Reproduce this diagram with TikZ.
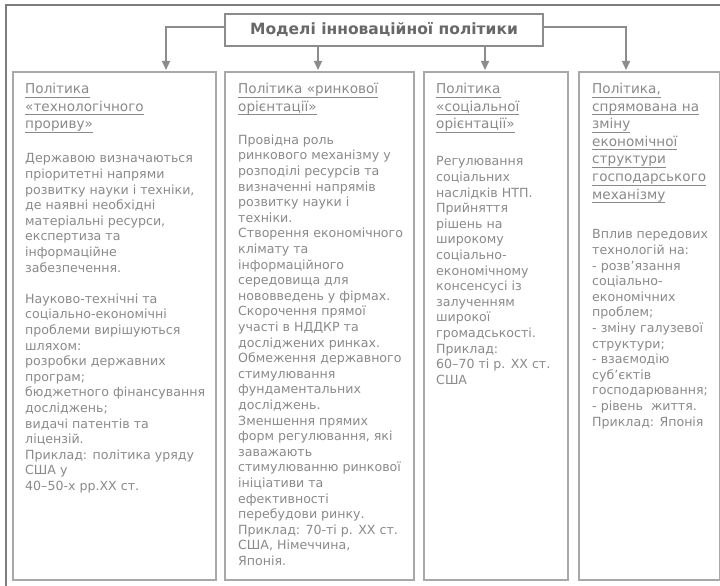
\documentclass[tikz,border=0pt]{standalone}
\usepackage{fontspec}
\setmainfont{DejaVu Sans}
\usetikzlibrary{positioning,arrows.meta}

\definecolor{txtgray}{HTML}{8A8A8A}
\definecolor{titlegray}{HTML}{686868}
\definecolor{linegray}{HTML}{8C8C8C}
\definecolor{boxgray}{HTML}{A8A8A8}
\definecolor{framegray}{HTML}{7C7C7C}

\newcommand{\hd}[1]{\setbox0\hbox{#1}\leavevmode\rlap{\rule[-3.8pt]{\wd0}{0.8pt}}\box0}

\begin{document}
\begin{tikzpicture}[
    x=1pt, y=1pt,
    >={Triangle[length=9pt,width=8pt]},
    title/.style={
        draw=linegray,
        line width=1.5pt,
        fill=white,
        text=titlegray,
        font=\fontsize{15.5}{18}\selectfont\bfseries,
        minimum width=318pt,
        minimum height=32pt,
        inner sep=0pt
    },
    col/.style={
        draw=boxgray,
        line width=1.6pt,
        fill=white,
        minimum height=508pt,
        inner sep=0pt,
        anchor=north west
    },
    head/.style={
        text=txtgray,
        font=\fontsize{13.6}{17.6}\selectfont,
        align=left,
        inner sep=0pt,
        anchor=north west,
        execute at begin node=\strut
    },
    body/.style={
        text=txtgray,
        font=\fontsize{12.6}{15.6}\selectfont,
        align=left,
        inner sep=0pt,
        anchor=north west,
        execute at begin node=\strut
    },
    link/.style={
        ->,
        draw=linegray,
        color=linegray,
        line width=1.5pt
    }
]
\useasboundingbox (0,0) rectangle (720,-586);

% outer frame (cut off at right and bottom)
\draw[framegray, line width=2.2pt] (6,-592) |- (726,-5);

% Title
\node[title] (title) at (384,-30) {Моделі інноваційної політики};

% Columns
\node[col, minimum width=203pt] (c1) at (12,-71) {};
\node[col, minimum width=189pt] (c2) at (224,-71) {};
\node[col, minimum width=144pt] (c3) at (423,-71) {};
\node[col, minimum width=141pt] (c4) at (578,-71) {};

% Column 1
\node[head] (h1) at ([xshift=13pt,yshift=-12pt]c1.north west) {
    \hd{Політика}\\
    \hd{«технологічного}\\
    \hd{прориву»}
};
\node[body] (b1) at ([xshift=13pt,yshift=-82.5pt]c1.north west) {
    Державою визначаються\\
    пріоритетні напрями\\
    розвитку науки і техніки,\\
    де наявні необхідні\\
    матеріальні ресурси,\\
    експертиза та\\
    інформаційне\\
    забезпечення.\\
    \strut\\
    Науково-технічні та\\
    соціально-економічні\\
    проблеми вирішуються\\
    шляхом:\\
    розробки державних\\
    програм;\\
    бюджетного фінансування\\
    досліджень;\\
    видачі патентів та\\
    ліцензій.\\
    Приклад: політика уряду\\
    США у\\
    40–50-х рр.ХХ ст.
};

% Column 2
\node[head] (h2) at ([xshift=14pt,yshift=-12pt]c2.north west) {
    \hd{Політика «ринкової}\\
    \hd{орієнтації»}
};
\node[body] (b2) at ([xshift=14pt,yshift=-63.5pt]c2.north west) {
    Провідна роль\\
    ринкового механізму у\\
    розподілі ресурсів та\\
    визначенні напрямів\\
    розвитку науки і\\
    техніки.\\
    Створення економічного\\
    клімату та\\
    інформаційного\\
    середовища для\\
    нововведень у фірмах.\\
    Скорочення прямої\\
    участі в НДДКР та\\
    досліджених ринках.\\
    Обмеження державного\\
    стимулювання\\
    фундаментальних\\
    досліджень.\\
    Зменшення прямих\\
    форм регулювання, які\\
    заважають\\
    стимулюванню ринкової\\
    ініціативи та\\
    ефективності\\
    перебудови ринку.\\
    Приклад: 70-ті р. ХХ ст.\\
    США, Німеччина,\\
    Японія.
};

% Column 3
\node[head] (h3) at ([xshift=13pt,yshift=-12pt]c3.north west) {
    \hd{Політика}\\
    \hd{«соціальної}\\
    \hd{орієнтації»}
};
\node[body] (b3) at ([xshift=13pt,yshift=-85.5pt]c3.north west) {
    Регулювання\\
    соціальних\\
    наслідків НТП.\\
    Прийняття\\
    рішень на\\
    широкому\\
    соціально-\\
    економічному\\
    консенсусі із\\
    залученням\\
    широкої\\
    громадськості.\\
    Приклад:\\
    60–70 ті р. ХХ ст.\\
    США
};

% Column 4
\node[head] (h4) at ([xshift=14pt,yshift=-12pt]c4.north west) {
    \hd{Політика,}\\
    \hd{спрямована на}\\
    \hd{зміну}\\
    \hd{економічної}\\
    \hd{структури}\\
    \hd{господарського}\\
    \hd{механізму}
};
\node[body] (b4) at ([xshift=14pt,yshift=-158.5pt]c4.north west) {
    Вплив передових\\
    технологій на:\\
    - розв’язання\\
    соціально-\\
    економічних\\
    проблем;\\
    - зміну галузевої\\
    структури;\\
    - взаємодію\\
    суб’єктів\\
    господарювання;\\
    - рівень\ \ життя.\\
    Приклад: Японія
};

% Arrow ends
\coordinate (a1) at (166,-70);
\coordinate (a2) at (318,-70);
\coordinate (a3) at (485,-70);
\coordinate (a4) at (626,-70);

% Connections
\draw[link] ([yshift=3pt]title.west) -| (a1);
\draw[link] (title.south -| a2) -- (a2);
\draw[link] (title.south -| a3) -- (a3);
\draw[link] ([yshift=3pt]title.east) -| (a4);

\end{tikzpicture}
\end{document}
